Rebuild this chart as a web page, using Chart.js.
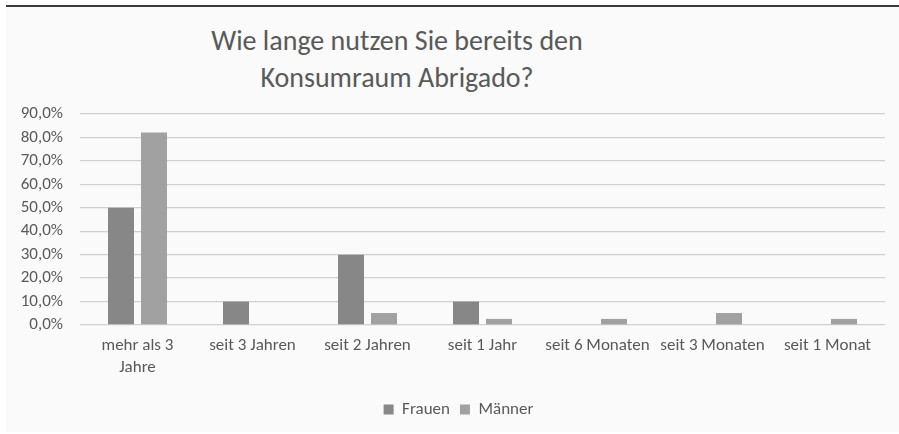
<!DOCTYPE html>
<html>
<head>
<meta charset="utf-8">
<script src="https://cdn.jsdelivr.net/npm/chart.js@4.4.1/dist/chart.umd.min.js"></script>
<style>
    html, body { margin: 0; padding: 0; background: #ffffff; }
    .wrap { position: relative; width: 899px; height: 434px; overflow: hidden; }
    .panel {
        position: absolute; left: 6px; top: 5px; right: 0; bottom: 2px;
        background: #fafafa; border-top: 2px solid #3a3a3a;
    }
    .title {
        position: absolute; left: 147px; width: 500px; top: 22px;
        text-align: center; color: #595959;
        font-family: Calibri, Carlito, Lato, sans-serif; font-size: 28px; line-height: 37px;
    }
    canvas { position: absolute; left: 0; top: 0; }
</style>
</head>
<body>
<div class="wrap">
    <div class="panel"></div>
    <div class="title">Wie lange nutzen Sie bereits den<br>Konsumraum Abrigado?</div>
    <canvas id="chart" width="899" height="434"></canvas>
</div>
<script>
// Kategorien
const categories = [
    ['mehr als 3', 'Jahre'],
    'seit 3 Jahren',
    'seit 2 Jahren',
    'seit 1 Jahr',
    'seit 6 Monaten',
    'seit 3 Monaten',
    'seit 1 Monat'
];

// Anteile in Prozent
const frauen = [50.0, 10.0, 30.0, 10.0, 0, 0, 0];
const maenner = [82.1, 0, 5.1, 2.6, 2.6, 5.1, 2.6];

const yMax = 90;
const yStep = 10;

const textColor = '#595959';
const fontFamily = 'Calibri, Carlito, Lato, sans-serif';

function formatPercent(v) {
    return v.toFixed(1).replace('.', ',') + '%';
}

// Legende etwas nach rechts schieben (wie im Original)
const legendShift = {
    id: 'legendShift',
    afterLayout(chart) {
        const lg = chart.legend;
        if (lg) {
            lg.left += 16;
            lg.right += 16;
        }
    }
};

new Chart(document.getElementById('chart').getContext('2d'), {
    type: 'bar',
    data: {
        labels: categories,
        datasets: [{
            label: 'Frauen',
            data: frauen,
            backgroundColor: '#878787',
            categoryPercentage: 0.574,
            barPercentage: 0.788
        }, {
            label: 'Männer',
            data: maenner,
            backgroundColor: '#a1a1a1',
            categoryPercentage: 0.574,
            barPercentage: 0.788
        }]
    },
    plugins: [legendShift],
    options: {
        responsive: false,
        animation: false,
        layout: {
            padding: { left: 0, right: 14, top: 114, bottom: 6 }
        },
        plugins: {
            title: { display: false },
            tooltip: { enabled: false },
            legend: {
                position: 'bottom',
                labels: {
                    boxWidth: 10,
                    boxHeight: 10,
                    padding: 10,
                    color: textColor,
                    font: { family: fontFamily, size: 17 }
                }
            }
        },
        scales: {
            x: {
                grid: { display: false, drawTicks: false },
                border: { display: false },
                ticks: {
                    color: textColor,
                    padding: 10,
                    maxRotation: 0,
                    autoSkip: false,
                    font: { family: fontFamily, size: 17, lineHeight: '22px' }
                },
                afterFit: (scale) => { scale.height = 66; }
            },
            y: {
                min: 0,
                max: yMax,
                grid: { color: '#d0d0d0', lineWidth: 1.3, drawTicks: false },
                border: { display: false },
                ticks: {
                    stepSize: yStep,
                    color: textColor,
                    padding: 17,
                    font: { family: fontFamily, size: 17 },
                    callback: (v) => formatPercent(v)
                },
                afterFit: (scale) => { scale.width = 80; }
            }
        }
    }
});
</script>
</body>
</html>
